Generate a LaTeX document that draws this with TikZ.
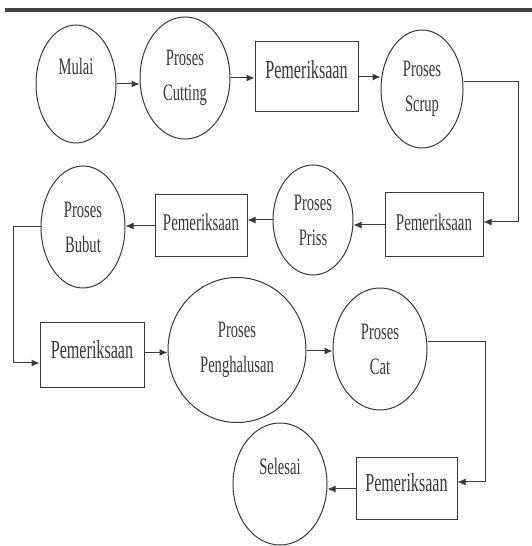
\documentclass[tikz,border=0pt]{standalone}
\usepackage{tikz}
\usepackage{tkz-euclide}
\usepackage{xcolor}
\usepackage{fontspec}
\setmainfont{Liberation Serif}
\newfontfamily\hurufalur[FakeStretch=0.62]{Liberation Serif}
\usetikzlibrary{shapes.geometric,arrows.meta}

\definecolor{garis}{HTML}{383838}

\tikzset{
  proses/.style={ellipse, draw=garis, line width=1pt, inner sep=0pt, align=center,
    text=garis, font=\hurufalur\fontsize{23.5}{35}\selectfont},
  periksa/.style={rectangle, draw=garis, line width=1pt, inner sep=0pt, align=center,
    text=garis, text depth=12pt, font=\hurufalur\fontsize{26}{30}\selectfont},
  alur/.style={draw=garis, line width=1pt, -{Latex[length=8pt,width=7pt]}}
}

\begin{document}
\begin{tikzpicture}[x=1pt,y=1pt]
    \useasboundingbox (0,0) rectangle (532,546);
    \fill[white] (0,0) rectangle (532,546);
    \draw[line width=4pt, garis!85!gray] (5,536) -- (532,536);
    \tkzDefPoints{76/462/pMulai,185/468/pCutting,306.5/469/pPeriksaA,422/457/pScrup}
    \tkzDefPoints{434/321/pPeriksaB,313/326/pPriss,201/320/pPeriksaC,83/319/pBubut}
    \tkzDefPoints{92/190.5/pPeriksaD,237/196/pHalus,380/197/pCat}
    \tkzDefPoints{406.5/57/pPeriksaE,280/62/pSelesai}
    % titik belok
    \tkzDefPoints{518/324/kA,13/183/kB,485/64/kC}
    % baris pertama
    \node[proses, minimum width=80pt, minimum height=118pt] (mulai) at (pMulai) {Mulai\\\mbox{}};
    \node[proses, minimum width=90pt, minimum height=122pt] (cutting) at (pCutting) {Proses\\Cutting};
    \node[periksa, minimum width=103pt, minimum height=70pt, text depth=16pt] (periksaA) at (pPeriksaA) {Pemeriksaan};
    \node[proses, minimum width=82pt, minimum height=118pt] (scrup) at (pScrup) {Proses\\Scrup};
    % baris kedua
    \node[periksa, minimum width=98pt, minimum height=64pt, text depth=6pt, font=\hurufalur\fontsize{24}{28}\selectfont] (periksaB) at (pPeriksaB) {Pemeriksaan};
    \node[proses, minimum width=80pt, minimum height=110pt] (priss) at (pPriss) {Proses\\Priss};
    \node[periksa, minimum width=92pt, minimum height=62pt, text depth=8pt, font=\hurufalur\fontsize{24}{28}\selectfont] (periksaC) at (pPeriksaC) {Pemeriksaan};
    \node[proses, minimum width=84pt, minimum height=122pt] (bubut) at (pBubut) {Proses\\Bubut};
    % baris ketiga
    \node[periksa, minimum width=104pt, minimum height=65pt] (periksaD) at (pPeriksaD) {Pemeriksaan};
    \node[proses, minimum width=138pt, minimum height=145pt] (halus) at (pHalus) {Proses\\Penghalusan};
    \node[proses, minimum width=94pt, minimum height=122pt] (cat) at (pCat) {Proses\\Cat};
    \node[periksa, minimum width=101pt, minimum height=62pt, text depth=13pt] (periksaE) at (pPeriksaE) {Pemeriksaan};
    \node[proses, minimum width=94pt, minimum height=122pt] (selesai) at (pSelesai) {Selesai\\\mbox{}};
    % alur
    \draw[alur] (mulai.east) -- (mulai.east -| cutting.west);
    \draw[alur] (cutting.east) -- (cutting.east -| periksaA.west);
    \draw[alur] (periksaA.east) -- (periksaA.east -| scrup.west);
    \draw[alur] ([yshift=7pt]scrup.east) -| (kA) -- (kA -| periksaB.east);
    \draw[alur] (periksaB.west) -- (periksaB.west -| priss.east);
    \draw[alur] (priss.west) -- (priss.west -| periksaC.east);
    \draw[alur] (periksaC.west) -- (periksaC.west -| bubut.east);
    \draw[alur] (bubut.west) -| (kB) -- (kB -| periksaD.west);
    \draw[alur] ([yshift=3pt]periksaD.east) -- ([yshift=3pt]periksaD.east -| halus.west);
    \draw[alur] ([yshift=-1pt]halus.east) -- ([yshift=-1pt]halus.east -| cat.west);
    \draw[alur] ([yshift=7pt]cat.east) -| (kC) -- (kC -| periksaE.east);
    \draw[alur] (periksaE.west) -- (periksaE.west -| selesai.east);
\end{tikzpicture}
\end{document}
